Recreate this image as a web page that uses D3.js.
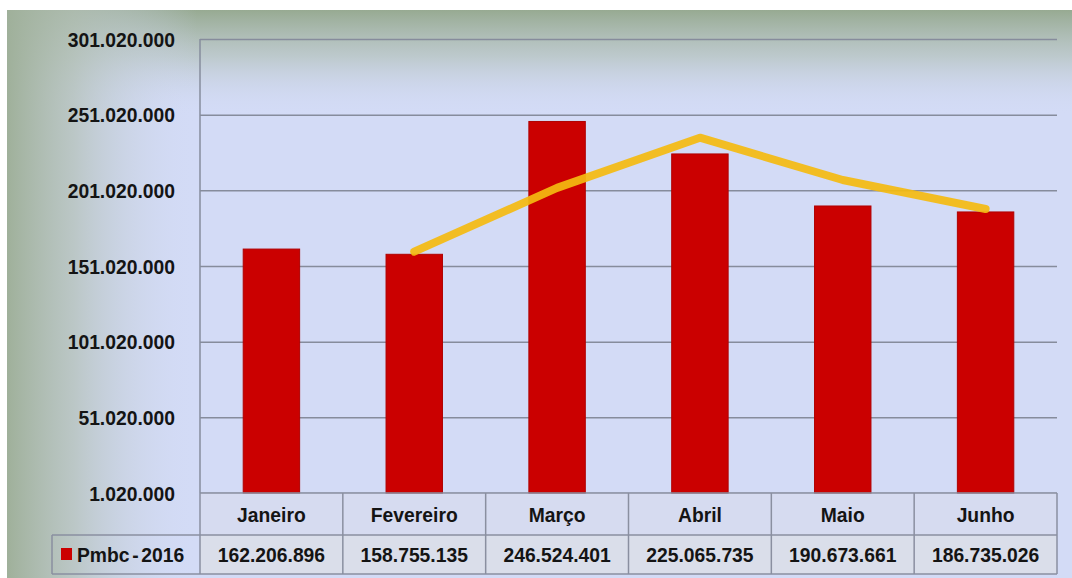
<!DOCTYPE html>
<html>
<head>
<meta charset="utf-8">
<script src="https://cdn.jsdelivr.net/npm/d3@7"></script>
<style>
  html, body { margin: 0; padding: 0; background: #ffffff; }
  svg { display: block; }
  text { font-family: "Liberation Sans", Arial, sans-serif; font-weight: bold; fill: #141414; }
</style>
</head>
<body>
<svg id="chart" width="1072" height="578"></svg>
<script>
// ---- data ----
const categories = ["Janeiro", "Fevereiro", "Março", "Abril", "Maio", "Junho"];
const seriesName = "Pmbc - 2016";
const values = [162206896, 158755135, 246524401, 225065735, 190673661, 186735026];
const valueLabels = ["162.206.896", "158.755.135", "246.524.401", "225.065.735", "190.673.661", "186.735.026"];
// yellow trend line (2-period moving average)
const trendValues = [null, 160480000, 202640000, 235800000, 207870000, 188700000];
const yTicks = [1020000, 51020000, 101020000, 151020000, 201020000, 251020000, 301020000];

// ---- layout ----
const W = 1072, H = 578;
const plotLeft = 200, plotRight = 1057, plotTop = 39, plotBottom = 493;
const row1Bottom = 535, row2Bottom = 574, legendLeft = 52;
const FS = 21, SX = 0.92, SY = 1.0;

const svg = d3.select("#chart");
const defs = svg.append("defs");

const gTop = defs.append("linearGradient").attr("id", "gTop").attr("x1", 0).attr("y1", 0).attr("x2", 0).attr("y2", 1);
gTop.append("stop").attr("offset", "0%").attr("stop-color", "#97aa92").attr("stop-opacity", 1);
gTop.append("stop").attr("offset", "45%").attr("stop-color", "#b4c2bc").attr("stop-opacity", 0.7);
gTop.append("stop").attr("offset", "100%").attr("stop-color", "#d3dbf6").attr("stop-opacity", 0);

const gLeft = defs.append("linearGradient").attr("id", "gLeft").attr("x1", 0).attr("y1", 0).attr("x2", 1).attr("y2", 0);
gLeft.append("stop").attr("offset", "0%").attr("stop-color", "#9fb09a").attr("stop-opacity", 1);
gLeft.append("stop").attr("offset", "35%").attr("stop-color", "#b3c0b6").attr("stop-opacity", 0.75);
gLeft.append("stop").attr("offset", "100%").attr("stop-color", "#d3dbf6").attr("stop-opacity", 0);

// background
svg.append("rect").attr("x", 7).attr("y", 10).attr("width", W - 7).attr("height", H - 10).attr("fill", "#d3dbf6");
svg.append("rect").attr("x", 7).attr("y", 10).attr("width", W - 7).attr("height", 105).attr("fill", "url(#gTop)");
svg.append("rect").attr("x", 7).attr("y", 10).attr("width", 190).attr("height", H - 10).attr("fill", "url(#gLeft)");

// scales
const x = d3.scaleBand().domain(categories).range([plotLeft, plotRight]).paddingInner(0).paddingOuter(0);
const y = d3.scaleLinear().domain([1020000, 301020000]).range([plotBottom, plotTop]);

const locale = d3.formatLocale({ decimal: ",", thousands: ".", grouping: [3], currency: ["", ""] });
const fmt = locale.format(",d");

function label(parent, px, py, txt, anchor) {
  parent.append("text")
    .attr("transform", `translate(${px},${py}) scale(${SX},${SY})`)
    .attr("dy", "0.36em")
    .attr("text-anchor", anchor)
    .attr("font-size", FS)
    .text(txt);
}

// gridlines
svg.append("g")
  .attr("transform", `translate(${plotLeft},0)`)
  .call(d3.axisLeft(y).tickValues(yTicks).tickSize(-(plotRight - plotLeft)).tickFormat(""))
  .call(g => g.select(".domain").remove())
  .call(g => g.selectAll("line").attr("stroke", "#868c9c").attr("stroke-width", 1.5));

// y tick labels
const yl = svg.append("g");
yTicks.forEach(t => label(yl, 175, y(t), fmt(t), "end"));

// axis line
svg.append("line").attr("x1", plotLeft).attr("x2", plotLeft).attr("y1", plotTop).attr("y2", plotBottom)
  .attr("stroke", "#868c9c").attr("stroke-width", 1.5);

// table backgrounds
svg.append("rect").attr("x", plotLeft).attr("y", plotBottom).attr("width", plotRight - plotLeft).attr("height", row1Bottom - plotBottom)
  .attr("fill", "#d6dbf0");
svg.append("rect").attr("x", plotLeft).attr("y", row1Bottom).attr("width", plotRight - plotLeft).attr("height", row2Bottom - row1Bottom)
  .attr("fill", "#dadeea");

// bars
const barW = x.bandwidth() * 0.395;
svg.append("g").selectAll("rect").data(values).join("rect")
  .attr("x", (d, i) => x(categories[i]) + x.bandwidth() / 2 - barW / 2)
  .attr("y", d => y(d))
  .attr("width", barW)
  .attr("height", d => y(1020000) - y(d))
  .attr("fill", "#cb0000")
  .attr("stroke", "#b00000")
  .attr("stroke-width", 1);

// trend line
const line = d3.line()
  .defined(d => d.v != null)
  .x(d => x(d.c) + x.bandwidth() / 2)
  .y(d => y(d.v));
svg.append("path")
  .datum(categories.map((c, i) => ({ c, v: trendValues[i] })))
  .attr("d", line)
  .attr("fill", "none")
  .attr("stroke", "#f4bb10")
  .attr("stroke-opacity", 0.92)
  .attr("stroke-width", 8)
  .attr("stroke-linecap", "round")
  .attr("stroke-linejoin", "round");

// table lines
const tl = svg.append("g").attr("stroke", "#8a8fa0").attr("stroke-width", 1.5);
tl.append("line").attr("x1", plotLeft).attr("x2", plotRight).attr("y1", plotBottom).attr("y2", plotBottom);
tl.append("line").attr("x1", legendLeft).attr("x2", plotRight).attr("y1", row1Bottom).attr("y2", row1Bottom);
tl.append("line").attr("x1", legendLeft).attr("x2", plotRight).attr("y1", row2Bottom).attr("y2", row2Bottom);
tl.append("line").attr("x1", legendLeft).attr("x2", legendLeft).attr("y1", row1Bottom).attr("y2", row2Bottom);
tl.selectAll(".v").data(categories).join("line").attr("class", "v")
  .attr("x1", d => x(d)).attr("x2", d => x(d)).attr("y1", plotBottom).attr("y2", row2Bottom);
tl.append("line").attr("x1", plotRight).attr("x2", plotRight).attr("y1", plotBottom).attr("y2", row2Bottom);

// category labels
const cl = svg.append("g");
categories.forEach(c => label(cl, x(c) + x.bandwidth() / 2, (plotBottom + row1Bottom) / 2, c, "middle"));

// value labels
const vl = svg.append("g");
valueLabels.forEach((v, i) => label(vl, x(categories[i]) + x.bandwidth() / 2, (row1Bottom + row2Bottom) / 2, v, "middle"));

// legend
svg.append("rect").attr("x", 61).attr("y", 548).attr("width", 11).attr("height", 12).attr("fill", "#cb0000");
svg.append("text")
  .attr("transform", `translate(77,${(row1Bottom + row2Bottom) / 2}) scale(${SX},${SY})`)
  .attr("dy", "0.36em")
  .attr("font-size", FS)
  .attr("word-spacing", -3)
  .text(seriesName);
</script>
</body>
</html>
